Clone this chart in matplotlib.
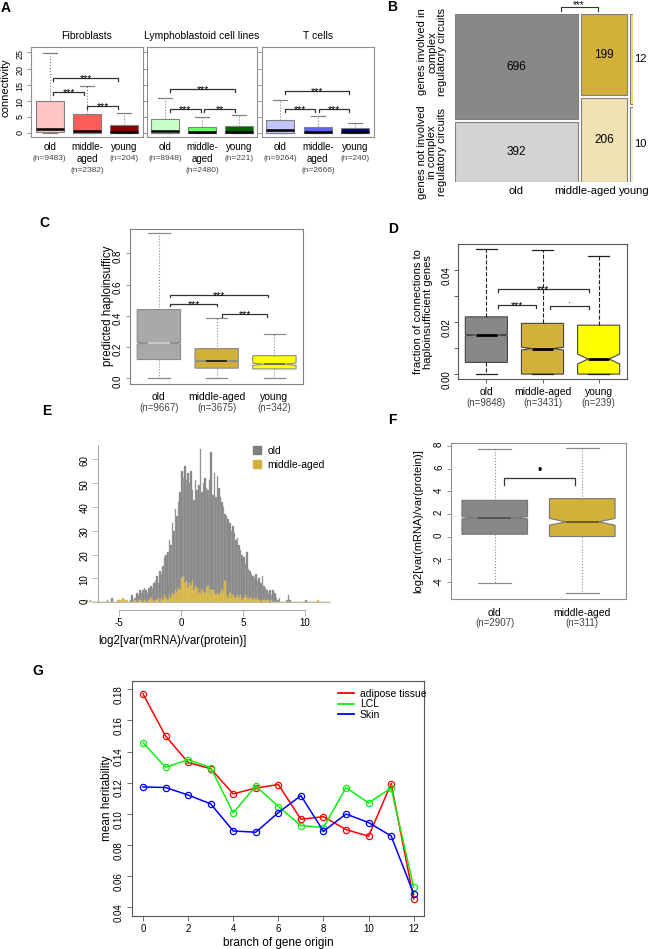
import numpy as np
import matplotlib
matplotlib.use('Agg')
import matplotlib.pyplot as plt
from matplotlib.patches import Patch
from matplotlib.lines import Line2D

plt.rcParams['font.family'] = ['Liberation Sans', 'DejaVu Sans']
plt.rcParams['axes.unicode_minus'] = False

W, H = 648, 949

# ---- A: connectivity per cell type
a_titles = ['Fibroblasts', 'Lymphoblastoid cell lines', 'T cells']
a_groups = ['old', 'middle-\naged', 'young']
a_n = [[9483, 2382, 204], [8948, 2480, 221], [9264, 2666, 240]]
a_q1 = [[0.3, 0.1, 0.1], [0.1, 0.1, 0.1], [0.1, 0.1, 0.1]]
a_med = [[1.3, 0.6, 0.3], [0.8, 0.4, 0.3], [1.0, 0.5, 0.4]]
a_q3 = [[10.0, 5.9, 2.6], [4.4, 2.1, 2.4], [4.2, 2.1, 1.7]]
a_wlo = [[0, 0, 0], [0, 0, 0], [0, 0, 0]]
a_whi = [[24.7, 14.5, 6.3], [10.8, 4.9, 5.6], [10.3, 5.3, 3.3]]
a_colors = [['#FFC4C4', '#FF5C5C', '#8B0000'],
            ['#C8FFC8', '#66FF66', '#006400'],
            ['#C4C4FF', '#6262FF', '#00008B']]
a_sig = [[(1.1, 2.84, 17.2, '***'), (1.1, 1.93, 12.8, '***'), (2.01, 2.84, 8.5, '***')],
         [(1.13, 2.9, 13.7, '***'), (1.13, 1.97, 7.5, '***'), (2.05, 2.9, 7.5, '**')],
         [(1.12, 2.84, 13.1, '***'), (1.12, 1.92, 7.5, '***'), (2.03, 2.84, 7.5, '***')]]

# ---- B: mosaic
b_groups = ['old', 'middle-aged', 'young']
b_involved = [696, 199, 12]
b_not_involved = [392, 206, 10]

# ---- C: haploinsufficiency
c_groups = ['old', 'middle-aged', 'young']
c_n = [9667, 3675, 342]
c_q1 = [0.12, 0.065, 0.06]
c_med = [0.225, 0.11, 0.09]
c_q3 = [0.44, 0.19, 0.145]
c_wlo = [0.0, 0.0, 0.0]
c_whi = [0.93, 0.385, 0.285]
c_sig = [(1.2, 2.89, 0.533, '***'), (1.2, 2.0, 0.477, '***'), (2.09, 2.88, 0.41, '***')]

# ---- D: fraction of connections to haploinsufficient genes
d_n = [9848, 3431, 239]
d_q1 = [0.0045, 0.0, 0.0]
d_med = [0.015, 0.0098, 0.0058]
d_q3 = [0.022, 0.0195, 0.0188]
d_wlo = [0.0, 0.0, 0.0]
d_whi = [0.048, 0.0478, 0.0455]
d_sig = [(1.2, 2.82, 0.0326, '***'), (1.2, 1.88, 0.0265, '***'), (2.13, 2.82, 0.0262, '.')]

# ---- E: histogram, bins of 0.125 starting at -8
e_start = -8.0
e_bin = 0.125
e_old = [
    0, 0, 0, 1, 0, 1, 0, 0,
    0, 0, 0, 0, 0, 0, 0, 0,
    1, 0, 0, 2, 0, 0, 0, 0,
    1, 0, 1, 1, 1, 0, 0, 1,
    3, 1, 2, 4, 3, 5, 4, 5,
    6, 5, 4, 6, 7, 6, 8, 9,
    11, 8, 13, 12, 15, 19, 20, 21,
    26, 24, 33, 30, 39, 36, 42, 46,
    55, 52, 57, 51, 54, 50, 55, 47,
    43, 51, 47, 49, 64, 46, 50, 52,
    48, 47, 51, 63, 45, 54, 44, 53,
    48, 44, 42, 40, 37, 36, 35, 33,
    30, 32, 29, 26, 27, 24, 22, 20,
    19, 16, 21, 14, 13, 12, 11, 10,
    12, 9, 10, 8, 11, 7, 6, 5,
    4, 5, 3, 5, 4, 2, 1, 2,
    0, 0, 0, 0, 1, 3, 1, 0,
    0, 0, 0, 0, 0, 0, 0, 0,
    1, 0, 0, 0, 0, 0, 0, 0,
    0, 0, 0, 0, 0, 0, 0, 0,
]
e_mid = [
    0, 0, 0, 0, 0, 0, 0, 0,
    0, 0, 0, 0, 0, 0, 0, 0,
    0, 0, 0, 0, 0, 0, 0, 1,
    1, 0, 2, 1, 1, 1, 0, 0,
    0, 0, 1, 0, 0, 1, 0, 0,
    1, 0, 0, 1, 2, 1, 0, 1,
    1, 2, 0, 2, 1, 3, 2, 1,
    3, 2, 4, 3, 5, 4, 6, 5,
    10, 11, 8, 9, 6, 8, 7, 9,
    5, 7, 6, 4, 3, 5, 4, 4,
    6, 7, 3, 5, 5, 4, 3, 4,
    3, 4, 5, 4, 9, 3, 2, 4,
    2, 3, 1, 2, 3, 2, 3, 1,
    2, 3, 2, 1, 2, 2, 1, 2,
    1, 2, 1, 0, 1, 1, 0, 1,
    1, 0, 1, 0, 0, 0, 0, 0,
    0, 0, 0, 0, 0, 0, 0, 0,
    0, 0, 0, 0, 0, 0, 0, 0,
    0, 0, 0, 0, 0, 0, 0, 0,
    1, 0, 0, 0, 0, 0, 0, 0,
]

# ---- F: log2 variance ratio
f_groups = ['old', 'middle-aged']
f_n = [2907, 311]
f_q1 = [0.2, 0.0]
f_med = [1.65, 1.3]
f_q3 = [3.2, 3.35]
f_wlo = [-4.1, -5.0]
f_whi = [7.7, 7.8]
f_sig = [(1.11, 1.92, 5.2, '•')]

# ---- G: heritability by branch
g_branch = list(range(13))
g_adipose = [0.177, 0.150, 0.133, 0.129, 0.1128, 0.1166, 0.1188, 0.0965, 0.0982, 0.0899, 0.0856, 0.1194, 0.0454]
g_lcl = [0.1458, 0.1299, 0.1348, 0.1297, 0.1006, 0.1179, 0.1047, 0.0925, 0.0912, 0.1169, 0.1070, 0.1166, 0.0528]
g_skin = [0.1173, 0.1169, 0.1121, 0.1064, 0.0890, 0.0882, 0.1008, 0.1117, 0.0888, 0.0999, 0.0944, 0.0858, 0.0486]

fig = plt.figure(figsize=(W / 100, H / 100), dpi=100)


def px_ax(l, t, r, b):
    return fig.add_axes([l / W, 1 - b / H, (r - l) / W, (b - t) / H])


def px_text(x, y, s, **kw):
    kw.setdefault('ha', 'center')
    kw.setdefault('va', 'center')
    fig.text(x / W, 1 - y / H, s, **kw)


def make_stats(q1, med, q3, wlo, whi, n):
    out = []
    for a, m, b, lo, hi, k in zip(q1, med, q3, wlo, whi, n):
        ci = 1.57 * (b - a) / np.sqrt(k)
        out.append(dict(med=m, q1=a, q3=b, whislo=lo, whishi=hi, fliers=[],
                        cilo=m - ci, cihi=m + ci))
    return out


def draw_boxes(ax, stats, colors, notch, edge, wls, wcol, med_cols, med_lw):
    bp = ax.bxp(stats, positions=range(1, len(stats) + 1), widths=0.75, capwidths=0.375,
                patch_artist=True, shownotches=notch, showfliers=False,
                boxprops=dict(edgecolor=edge, linewidth=0.8),
                whiskerprops=dict(color=wcol, linestyle=wls, linewidth=0.8),
                capprops=dict(color=wcol, linewidth=0.9),
                medianprops=dict(linewidth=med_lw))
    for patch, c in zip(bp['boxes'], colors):
        patch.set_facecolor(c)
    for line, c in zip(bp['medians'], med_cols):
        line.set_color(c)


def brackets(ax, sig, depth, fs):
    for x0, x1, y, lab in sig:
        ax.plot([x0, x0, x1, x1], [y - depth, y, y, y - depth], color='#333333', lw=0.9, clip_on=False)
        if lab.startswith('*'):
            ax.annotate(lab, xy=((x0 + x1) / 2, y), xytext=(0, -4), textcoords='offset pixels',
                        ha='center', va='baseline', fontsize=fs)
        else:
            ax.annotate(lab, xy=((x0 + x1) / 2, y), xytext=(0, 1), textcoords='offset pixels',
                        ha='center', va='bottom', fontsize=fs)


def group_labels(ax, labels, ns, dy, lh, fs1, fs2):
    for i, (lab, n) in enumerate(zip(labels, ns)):
        lines = lab.split('\n')
        for k, line in enumerate(lines):
            ax.annotate(line, xy=(i + 1, 0), xycoords=('data', 'axes fraction'),
                        xytext=(0, -(dy + k * lh)), textcoords='offset pixels',
                        ha='center', va='center', fontsize=fs1)
        ax.annotate('(n=%d)' % n, xy=(i + 1, 0), xycoords=('data', 'axes fraction'),
                    xytext=(0, -(dy + len(lines) * lh - 1)), textcoords='offset pixels',
                    ha='center', va='center', fontsize=fs2, color='#444444')


def style_spines(ax, col):
    for s in ax.spines.values():
        s.set_color(col)
        s.set_linewidth(0.8)


# ---------------- A
a_boxes = [(31, 47, 143, 137), (146.7, 47, 257.3, 137), (261.7, 47, 374, 137)]
for p in range(3):
    ax = px_ax(*a_boxes[p])
    st = make_stats(a_q1[p], a_med[p], a_q3[p], a_wlo[p], a_whi[p], a_n[p])
    draw_boxes(ax, st, a_colors[p], False, '#808080', ':', '#808080', ['black'] * 3, 1.8)
    ax.set_xlim(0.5, 3.5)
    ax.set_ylim(-1.14, 26.64)
    ax.set_xticks([])
    ax.set_yticks(range(0, 30, 5))
    ax.tick_params(axis='y', length=3, width=0.6, color='#808080', labelsize=6.5,
                   labelrotation=90, pad=1.5)
    if p > 0:
        ax.set_yticklabels([])
    style_spines(ax, '#909090')
    brackets(ax, a_sig[p], 1.0, 7.5)
    group_labels(ax, a_groups, a_n[p], 9.7, 12.5, 7, 6)
    ax.set_title(a_titles[p], fontsize=7.5, pad=6)
px_text(6, 88, 'connectivity', rotation=90, fontsize=8)

# ---------------- B
ax = px_ax(455, 14.3, 632.7, 181.7)
ax.set_xlim(0, 1)
ax.set_ylim(0, 1)
ax.axis('off')
b_top_colors = ['#888888', '#D2B03A', '#F0E85A']
b_bot_colors = ['#D3D3D3', '#F0E2B2', '#FAF6D2']
gapx, gapy = 0.017, 0.018
totals = [a + b for a, b in zip(b_involved, b_not_involved)]
content = 1 - gapx * (len(totals) - 1)
x = 0.0
for i, tot in enumerate(totals):
    w = tot / sum(totals) * content
    hb = b_not_involved[i] / tot * (1 - gapy)
    ht = b_involved[i] / tot * (1 - gapy)
    ax.bar(x, hb, width=w, bottom=0, align='edge', color=b_bot_colors[i], edgecolor='#7F7F7F', lw=0.8)
    ax.bar(x, ht, width=w, bottom=hb + gapy, align='edge', color=b_top_colors[i], edgecolor='#7F7F7F', lw=0.8)
    if w > 0.05:
        ax.text(x + w / 2, hb / 2, str(b_not_involved[i]), ha='center', va='center', fontsize=8.5)
        ax.text(x + w / 2, hb + gapy + ht / 2, str(b_involved[i]), ha='center', va='center', fontsize=8.5)
    else:
        ax.text(x + w + 0.008, hb / 2, str(b_not_involved[i]), ha='left', va='center', fontsize=8)
        ax.text(x + w + 0.008, hb + gapy + ht / 2, str(b_involved[i]), ha='left', va='center', fontsize=8)
    x += w + gapx
px_text(516, 191, b_groups[0], fontsize=8)
px_text(585, 191, b_groups[1], fontsize=8)
px_text(634, 191, b_groups[2], fontsize=8)
px_text(432, 52, 'genes involved in\ncomplex\nregulatory circuits', rotation=90, fontsize=8, linespacing=1.0)
px_text(432, 152, 'genes not involved\nin complex\nregulatory circuits', rotation=90, fontsize=8, linespacing=1.0)
fig.add_artist(Line2D([560.7 / W, 560.7 / W, 597.7 / W, 597.7 / W],
                      [1 - 11 / H, 1 - 6.7 / H, 1 - 6.7 / H, 1 - 11 / H], color='#333333', lw=0.8))
px_text(579, 5.5, '***', fontsize=7)

# ---------------- C
ax = px_ax(130, 229.3, 303.3, 384)
st = make_stats(c_q1, c_med, c_q3, c_wlo, c_whi, c_n)
draw_boxes(ax, st, ['#A9A9A9', '#D2B03A', '#FFFF00'], True, '#8A8A8A', ':', '#8A8A8A',
           ['#D0D0D0', '#111111', '#555555'], 1.2)
ax.set_xlim(0.5, 3.5)
ax.set_ylim(-0.0365, 0.9536)
ax.set_xticks([])
ax.set_yticks([0.0, 0.2, 0.4, 0.6, 0.8])
ax.set_yticklabels(['0.0', '0.2', '0.4', '0.6', '0.8'])
ax.tick_params(axis='y', length=3, width=0.6, color='#808080', labelsize=7, labelrotation=90, pad=2)
style_spines(ax, '#808080')
brackets(ax, c_sig, 0.015, 7.5)
group_labels(ax, c_groups, c_n, 12.7, 12.3, 7.5, 7)
px_text(108, 306, 'predicted haploinsufficy', rotation=90, fontsize=8.3)

# ---------------- D
ax = px_ax(458.3, 244, 626.7, 379.3)
st = make_stats(d_q1, d_med, d_q3, d_wlo, d_whi, d_n)
draw_boxes(ax, st, ['#888888', '#D2B03A', '#FFFF00'], True, '#444444', '--', '#222222',
           ['black'] * 3, 2.0)
ax.set_xlim(0.5, 3.5)
ax.set_ylim(-0.002, 0.05)
ax.set_xticks([1, 2, 3])
ax.set_xticklabels([])
ax.set_yticks([0.0, 0.01, 0.02, 0.03, 0.04])
ax.set_yticklabels(['0.00', '', '0.02', '', '0.04'])
ax.tick_params(axis='both', length=3, width=0.6, color='#444444', labelsize=7, pad=2)
ax.tick_params(axis='y', labelrotation=90)
style_spines(ax, '#555555')
brackets(ax, d_sig, 0.0012, 7.5)
group_labels(ax, c_groups, d_n, 12.7, 11.5, 7.5, 7)
px_text(423, 312, 'fraction of connections to\nhaploinsufficient genes', rotation=90, fontsize=8,
        linespacing=1.1)

# ---------------- E
ax = px_ax(70, 440, 335, 615)
edges = e_start + e_bin * np.arange(len(e_old))
ax.hlines(0, -6.7, 12.0, color='#BBBBBB', lw=0.8, zorder=0)
ax.bar(edges, e_old, width=e_bin, align='edge', color='#808080', edgecolor='#AAAAAA', lw=0.3)
ax.bar(edges, e_mid, width=e_bin, align='edge', color='#D2B03A', edgecolor='#E2CB78', lw=0.3)
ax.set_xlim(-8.95, 12.42)
ax.set_ylim(-5.3, 67.9)
for s in ['top', 'right']:
    ax.spines[s].set_visible(False)
ax.spines['left'].set_position(('data', -6.7))
ax.spines['left'].set_bounds(0, 66)
ax.spines['bottom'].set_position(('data', -3.2))
ax.spines['bottom'].set_bounds(-5, 10)
for s in ['left', 'bottom']:
    ax.spines[s].set_color('#AAAAAA')
    ax.spines[s].set_linewidth(0.8)
ax.set_xticks([-5, 0, 5, 10])
ax.set_yticks(range(0, 70, 10))
ax.tick_params(axis='both', length=4, width=0.6, color='#AAAAAA', labelsize=7, pad=2)
ax.tick_params(axis='y', labelrotation=90)
ax.legend(handles=[Patch(color='#808080'), Patch(color='#D2B03A')], labels=['old', 'middle-aged'],
          loc='upper left', bbox_to_anchor=(253 / W, 1 - 446 / H), bbox_transform=fig.transFigure,
          frameon=False, fontsize=7.5, handlelength=0.8, handleheight=0.8, handletextpad=0.6,
          labelspacing=0.35, borderpad=0, borderaxespad=0)
px_text(172, 641, 'log2[var(mRNA)/var(protein)]', fontsize=8.3)

# ---------------- F
ax = px_ax(451, 442.7, 626, 599)
st = make_stats(f_q1, f_med, f_q3, f_wlo, f_whi, f_n)
draw_boxes(ax, st, ['#888888', '#D2B03A'], True, '#777777', ':', '#8A8A8A',
           ['#555555', '#6E5A1E'], 1.4)
ax.set_xlim(0.5, 2.5)
ax.set_ylim(-5.53, 8.3)
ax.set_xticks([])
ax.set_yticks(range(-4, 10, 2))
ax.tick_params(axis='y', length=3, width=0.6, color='#808080', labelsize=7, labelrotation=90, pad=2)
style_spines(ax, '#909090')
brackets(ax, f_sig, 0.6, 9)
group_labels(ax, f_groups, f_n, 13.7, 11.6, 7.5, 7)
px_text(418, 521, 'log2[var(mRNA)/var(protein)]', rotation=90, fontsize=8)

# ---------------- G
g_font = ['Liberation Sans Narrow', 'Liberation Sans', 'DejaVu Sans']
ax = px_ax(131.7, 680.7, 424.3, 916)
g_series = [g_adipose, g_lcl, g_skin]
g_names = ['adipose tissue', 'LCL', 'Skin']
g_cols = ['#FF0000', '#11EE11', '#0000FF']
for vals, col in zip(g_series, g_cols):
    ax.plot(g_branch, vals, color=col, lw=1.1, marker='o', ms=4.5, mfc='none', mew=0.9)
ax.set_xlim(-0.5, 12.47)
ax.set_ylim(0.0344, 0.1855)
ax.set_xticks(range(0, 13, 2))
ax.set_yticks([0.04, 0.06, 0.08, 0.10, 0.12, 0.14, 0.16, 0.18])
ax.set_yticklabels(['%.2f' % v for v in [0.04, 0.06, 0.08, 0.10, 0.12, 0.14, 0.16, 0.18]])
ax.tick_params(axis='both', length=3.5, width=0.6, color='#555555', labelsize=7, pad=2)
ax.tick_params(axis='y', labelrotation=90)
for lab in ax.get_xticklabels() + ax.get_yticklabels():
    lab.set_family(g_font)
style_spines(ax, '#555555')
ax.legend(handles=[Line2D([], [], color=c, lw=1.3) for c in g_cols], labels=g_names,
          loc='upper left', bbox_to_anchor=(0.705, 0.965), frameon=False,
          prop=dict(family=g_font, size=7.5), handlelength=1.5, handletextpad=0.6,
          labelspacing=0.05, borderpad=0, borderaxespad=0)
px_text(107, 798, 'mean heritability', rotation=90, fontsize=8.5, family=g_font)
px_text(278, 943, 'branch of gene origin', fontsize=8.5, family=g_font)

# panel letters
for lab, xx, yy in [('A', 6, 8), ('B', 392, 7), ('C', 44, 223), ('D', 393, 229),
                    ('E', 47, 411), ('F', 392, 420), ('G', 38, 671)]:
    px_text(xx, yy, lab, fontsize=10, fontweight='bold')

fig.savefig('out.png', dpi=100)
